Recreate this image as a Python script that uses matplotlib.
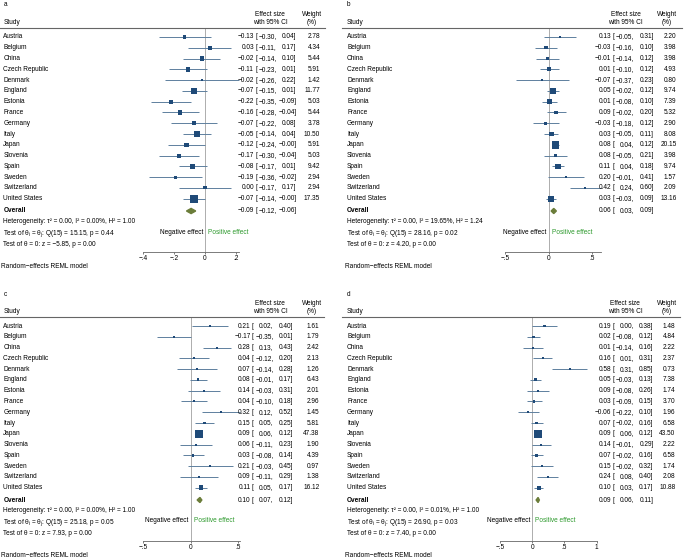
import numpy as np
import matplotlib.pyplot as plt
from matplotlib.patches import Polygon

plt.rcParams['font.family'] = ['Liberation Sans', 'DejaVu Sans']
plt.rcParams['mathtext.default'] = 'regular'

countries = ["Austria", "Belgium", "China", "Czech Republic", "Denmark", "England",
             "Estonia", "France", "Germany", "Italy", "Japan", "Slovenia", "Spain",
             "Sweden", "Switzerland", "United States"]

# panel a
a_est = [-0.13, 0.03, -0.02, -0.11, -0.02, -0.07, -0.22, -0.16, -0.07, -0.05, -0.12, -0.17, -0.08, -0.19, 0.00, -0.07]
a_lo = [-0.30, -0.11, -0.14, -0.23, -0.26, -0.15, -0.35, -0.28, -0.22, -0.14, -0.24, -0.30, -0.17, -0.36, -0.17, -0.14]
a_hi = [0.04, 0.17, 0.10, 0.01, 0.22, 0.01, -0.09, -0.04, 0.08, 0.04, -0.0, -0.04, 0.01, -0.02, 0.17, -0.0]
a_wt = [2.78, 4.34, 5.44, 5.91, 1.42, 11.77, 5.03, 5.44, 3.78, 10.50, 5.91, 5.03, 9.42, 2.94, 2.94, 17.35]
a_overall = [-0.09, -0.12, -0.06]
a_notes = ["Heterogeneity: τ² = 0.00, I² = 0.00%, H² = 1.00",
           "Test of θ$_i$ = θ$_j$: Q(15) = 15.15, p = 0.44",
           "Test of θ = 0: z = −5.85, p = 0.00"]
a_ticks = [-0.4, -0.2, 0, 0.2]
a_ticklabels = ["−.4", "−.2", "0", ".2"]

# panel b
b_est = [0.13, -0.03, -0.01, 0.01, -0.07, 0.05, 0.01, 0.09, -0.03, 0.03, 0.08, 0.08, 0.11, 0.20, 0.42, 0.03]
b_lo = [-0.05, -0.16, -0.14, -0.10, -0.37, -0.02, -0.08, -0.02, -0.18, -0.05, 0.04, -0.05, 0.04, -0.01, 0.24, -0.03]
b_hi = [0.31, 0.10, 0.12, 0.12, 0.23, 0.12, 0.10, 0.20, 0.12, 0.11, 0.12, 0.21, 0.18, 0.41, 0.60, 0.09]
b_wt = [2.20, 3.98, 3.98, 4.93, 0.80, 9.74, 7.39, 5.32, 2.90, 8.08, 20.15, 3.98, 9.74, 1.57, 2.09, 13.16]
b_overall = [0.06, 0.03, 0.09]
b_notes = ["Heterogeneity: τ² = 0.00, I² = 19.65%, H² = 1.24",
           "Test of θ$_i$ = θ$_j$: Q(15) = 28.16, p = 0.02",
           "Test of θ = 0: z = 4.20, p = 0.00"]
b_ticks = [-0.5, 0, 0.5]
b_ticklabels = ["−.5", "0", ".5"]

# panel c
c_est = [0.21, -0.17, 0.28, 0.04, 0.07, 0.08, 0.14, 0.04, 0.32, 0.15, 0.09, 0.06, 0.03, 0.21, 0.09, 0.11]
c_lo = [0.02, -0.35, 0.13, -0.12, -0.14, -0.01, -0.03, -0.10, 0.12, 0.05, 0.06, -0.11, -0.08, -0.03, -0.11, 0.05]
c_hi = [0.40, 0.01, 0.43, 0.20, 0.28, 0.17, 0.31, 0.18, 0.52, 0.25, 0.12, 0.23, 0.14, 0.45, 0.29, 0.17]
c_wt = [1.61, 1.79, 2.42, 2.13, 1.26, 6.43, 2.01, 2.96, 1.45, 5.81, 47.38, 1.90, 4.39, 0.97, 1.38, 16.12]
c_overall = [0.10, 0.07, 0.12]
c_notes = ["Heterogeneity: τ² = 0.00, I² = 0.00%, H² = 1.00",
           "Test of θ$_i$ = θ$_j$: Q(15) = 25.18, p = 0.05",
           "Test of θ = 0: z = 7.93, p = 0.00"]
c_ticks = [-0.5, 0, 0.5]
c_ticklabels = ["−.5", "0", ".5"]

# panel d
d_est = [0.19, 0.02, 0.01, 0.16, 0.58, 0.05, 0.09, 0.03, -0.06, 0.07, 0.09, 0.14, 0.07, 0.15, 0.24, 0.10]
d_lo = [0.00, -0.08, -0.14, 0.01, 0.31, -0.03, -0.08, -0.09, -0.22, -0.02, 0.06, -0.01, -0.02, -0.02, 0.08, 0.03]
d_hi = [0.38, 0.12, 0.16, 0.31, 0.85, 0.13, 0.26, 0.15, 0.10, 0.16, 0.12, 0.29, 0.16, 0.32, 0.40, 0.17]
d_wt = [1.48, 4.84, 2.22, 2.37, 0.73, 7.38, 1.74, 3.70, 1.96, 6.58, 43.50, 2.22, 6.58, 1.74, 2.08, 10.88]
d_overall = [0.09, 0.06, 0.11]
d_notes = ["Heterogeneity: τ² = 0.00, I² = 0.01%, H² = 1.00",
           "Test of θ$_i$ = θ$_j$: Q(15) = 26.90, p = 0.03",
           "Test of θ = 0: z = 7.40, p = 0.00"]
d_ticks = [-0.5, 0, 0.5, 1]
d_ticklabels = ["−.5", "0", ".5", "1"]

W, H = 685, 560
FS = 4.7
SQ = '#1f4a78'
CI = '#5f809f'
DIA = '#6b7d3a'
GREEN = '#2e9a2e'
GRAY = '#a0a0a0'

# row geometry in pixels (relative to panel top)
ROW0, ROWH, AXB = 37, 10.78, 251.7


def fmt(v):
    return f"{v:.2f}".replace("-", "−")


def forest(label, left, top, width, zero, scale, ticks, ticklabels,
           est, lo, hi, wt, overall, notes, txt_x, hi_r, wt_r, eff_c, wt_c):
    ax = fig.add_axes([left / W, 1 - (top + AXB) / H, width / W, AXB / H])
    ax.set_xlim(-zero / scale, (width - zero) / scale)
    ax.set_ylim((AXB - ROW0) / ROWH, -ROW0 / ROWH)
    for s in ['top', 'left', 'right']:
        ax.spines[s].set_visible(False)
    x_lo = min(ticks[0], min(lo))
    x_hi = max(ticks[-1], max(hi))
    ax.spines['bottom'].set_bounds(x_lo, x_hi)
    ax.spines['bottom'].set_color('#666666')
    ax.spines['bottom'].set_linewidth(0.6)
    ax.set_xticks(ticks)
    ax.set_xticklabels(ticklabels)
    ax.tick_params(axis='x', length=1.6, width=0.6, color='#666666', pad=0.6, labelsize=FS)
    ax.set_yticks([])
    ax.patch.set_alpha(0)

    rows = np.arange(len(countries))
    ybot = (AXB - ROW0) / ROWH
    hline_y = (27.5 - ROW0) / ROWH
    ax.vlines(0, hline_y, ybot, color=GRAY, lw=0.6, zorder=1)
    ax.hlines(rows, lo, hi, color=CI, lw=0.7, zorder=2)
    wt = np.array(wt)
    sizes = np.maximum(30 * wt / wt.max(), 2.2)
    ax.scatter(est, rows, s=sizes, marker='s', color=SQ, linewidths=0, zorder=3)

    yo = (211 - ROW0) / ROWH
    dh = 0.24
    e, l, h = overall
    ax.add_patch(Polygon([(l, yo), (e, yo - dh), (h, yo), (e, yo + dh)],
                         closed=True, color=DIA, zorder=3))

    tr = ax.get_yaxis_transform()
    fx = lambda px: px / width
    kw = dict(transform=tr, fontsize=FS, va='center', clip_on=False)

    ax.text(fx(txt_x), (5 - ROW0) / ROWH, label, **kw)
    ax.text(fx(txt_x), (22 - ROW0) / ROWH, "Study", **kw)
    ax.text(fx(eff_c), (14 - ROW0) / ROWH, "Effect size", ha='center', **kw)
    ax.text(fx(eff_c), (22 - ROW0) / ROWH, "with 95% CI", ha='center', **kw)
    ax.text(fx(wt_c), (14 - ROW0) / ROWH, "Weight", ha='center', **kw)
    ax.text(fx(wt_c), (22 - ROW0) / ROWH, "(%)", ha='center', **kw)
    ax.plot([0, fx(wt_r + 5)], [hline_y, hline_y], transform=tr, color='#666666',
            lw=0.8, clip_on=False)

    def ci_text(y, e, l, h):
        ax.text(fx(hi_r - 42.7), y, fmt(e), ha='right', **kw)
        ax.text(fx(hi_r - 41.5), y, "[", ha='left', **kw)
        ax.text(fx(hi_r - 20), y, fmt(l) + ",", ha='right', **kw)
        ax.text(fx(hi_r), y, fmt(h) + "]", ha='right', **kw)

    for i, c in enumerate(countries):
        ax.text(fx(txt_x), i, c, **kw)
        ci_text(i, est[i], lo[i], hi[i])
        ax.text(fx(wt_r), i, f"{wt[i]:.2f}", ha='right', **kw)

    ax.text(fx(txt_x), yo, "Overall", fontweight='bold', **kw)
    ci_text(yo, e, l, h)
    for k, y_px in enumerate([221.7, 233.3, 244.2]):
        ax.text(fx(txt_x), (y_px - ROW0) / ROWH, notes[k], **kw)

    yn = (232 - ROW0) / ROWH
    ax.text(fx(zero - 2), yn, "Negative effect", ha='right', **kw)
    ax.text(fx(zero + 3), yn, "Positive effect", ha='left', color=GREEN, **kw)
    ax.text(fx(txt_x - 2), (266.7 - ROW0) / ROWH, "Random−effects REML model", **kw)
    return ax


fig = plt.figure(figsize=(W / 100, H / 100), dpi=100)

forest("a", 0, 0, 342, 205, 154.5, a_ticks, a_ticklabels,
       a_est, a_lo, a_hi, a_wt, a_overall, a_notes, 3.3, 296.7, 320, 270, 312)
forest("b", 342, 0, 343, 206.5, 87.5, b_ticks, b_ticklabels,
       b_est, b_lo, b_hi, b_wt, b_overall, b_notes, 5, 312, 334.5, 283.5, 325)
forest("c", 0, 289, 342, 190.5, 94.4, c_ticks, c_ticklabels,
       c_est, c_lo, c_hi, c_wt, c_overall, c_notes, 3.3, 293.3, 319.3, 270, 312)
forest("d", 342, 289, 343, 190.3, 64.2, d_ticks, d_ticklabels,
       d_est, d_lo, d_hi, d_wt, d_overall, d_notes, 5, 311.7, 333.3, 283.3, 325)

fig.savefig("out.png", dpi=100)
